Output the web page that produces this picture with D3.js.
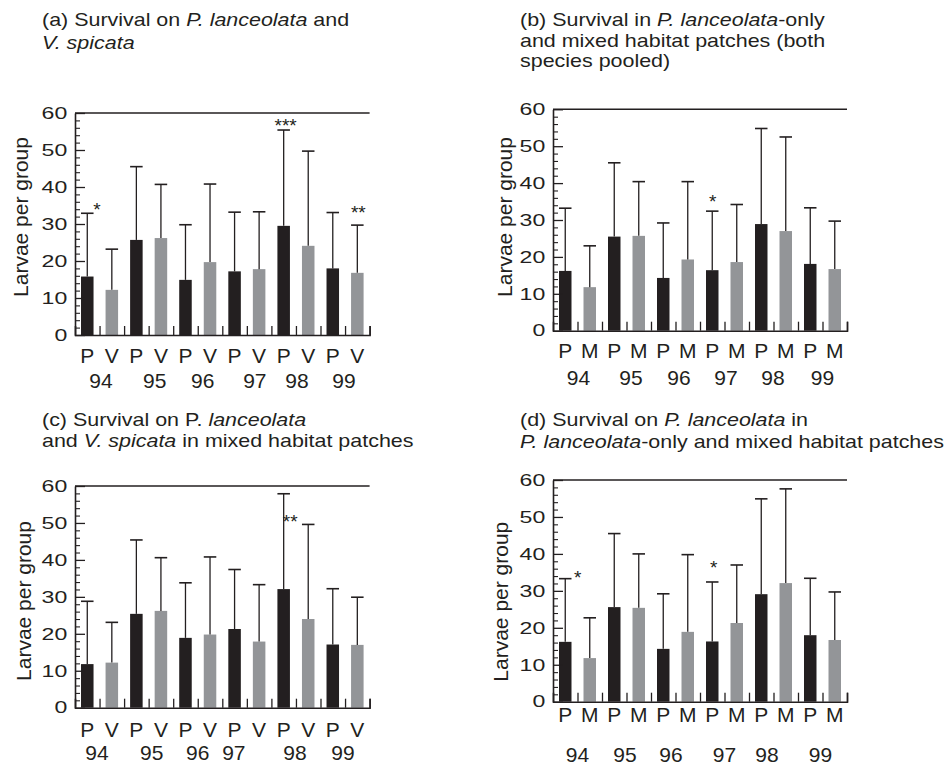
<!DOCTYPE html>
<html>
<head>
<meta charset="utf-8">
<script src="https://cdn.jsdelivr.net/npm/d3@7/dist/d3.min.js"></script>
<style>
  body { margin: 0; background: #fff; }
  text { font-family: "Liberation Sans", Arial, Helvetica, sans-serif; fill: #231f20; }
</style>
</head>
<body>
<div id="chart"></div>
<script>
// Chart size
var svgWidth = 945;
var svgHeight = 767;

// Data
var years = ["94", "95", "96", "97", "98", "99"];
var yTicks = [0, 10, 20, 30, 40, 50, 60];

// (a) P vs V
var aLabels = ["P", "V"];
var aMeans = [15.8, 12.2, 25.7, 26.2, 14.9, 19.7, 17.2, 17.8, 29.5, 24.1, 18.0, 16.8];
var aUpper = [32.9, 23.2, 45.5, 40.7, 29.8, 40.8, 33.2, 33.3, 55.4, 49.7, 33.1, 29.7];

// (b) P-only vs mixed, pooled
var bLabels = ["P", "M"];
var bMeans = [16.2, 11.8, 25.5, 25.7, 14.3, 19.3, 16.4, 18.6, 28.9, 27.0, 18.1, 16.7];
var bUpper = [33.2, 23.0, 45.5, 40.4, 29.2, 40.4, 32.4, 34.2, 54.8, 52.5, 33.3, 29.7];

// (c) P vs V in mixed patches
var cLabels = ["P", "V"];
var cMeans = [11.8, 12.2, 25.4, 26.2, 18.9, 19.8, 21.3, 17.9, 32.1, 24.0, 17.1, 17.0];
var cUpper = [28.8, 23.1, 45.4, 40.6, 33.8, 40.8, 37.4, 33.3, 57.9, 49.6, 32.2, 29.9];

// (d) P in P-only vs mixed
var dLabels = ["P", "M"];
var dMeans = [16.2, 11.8, 25.6, 25.4, 14.3, 18.9, 16.3, 21.3, 29.1, 32.1, 18.0, 16.7];
var dUpper = [33.3, 22.7, 45.5, 40.0, 29.2, 39.8, 32.4, 37.0, 54.9, 57.6, 33.4, 29.7];

// Significance marks: bar index and label
var aStars = [[0, "*"], [8, "***"], [11, "**"]];
var bStars = [[6, "*"]];
var cStars = [[8, "**"]];
var dStars = [[0, "*"], [6, "*"]];

// Titles (text, italic?)
var aTitle = [[["(a) Survival on ", 0], ["P. lanceolata", 1], [" and", 0]],
              [["V. spicata", 1]]];
var bTitle = [[["(b) Survival in ", 0], ["P. lanceolata", 1], ["-only", 0]],
              [["and mixed habitat patches (both", 0]],
              [["species pooled)", 0]]];
var cTitle = [[["(c) Survival on P. ", 0], ["lanceolata", 1]],
              [["and ", 0], ["V. spicata", 1], [" in mixed habitat patches", 0]]];
var dTitle = [[["(d) Survival on ", 0], ["P. lanceolata", 1], [" in", 0]],
              [["P. lanceolata", 1], ["-only and mixed habitat patches", 0]]];

var black = "#231f20";
var grey = "#939598";

// Panel layout (pixels)
var panels = [
  { means: aMeans, upper: aUpper, labels: aLabels, stars: aStars, title: aTitle,
    x0: 75, x1: 369.6, top: 113, bottom: 335, titleX: 42, titleY: 26, lineH: 22.5,
    ytX: 28, ytY: 217, row1: 362.7, row2: 388.3,
    yearNudge: [1.5, 6, 5, 8, 1, -1],
    starOff: [[9.7, -8], [2, -9.5], [1, -17]] },
  { means: bMeans, upper: bUpper, labels: bLabels, stars: bStars, title: bTitle,
    x0: 553, x1: 847, top: 109.3, bottom: 330.7, titleX: 520, titleY: 26, lineH: 20.5,
    ytX: 511.7, ytY: 217, row1: 358.3, row2: 385,
    yearNudge: [1, 4.5, 3.5, 1.5, -0.5, 0],
    starOff: [[0.5, -14]] },
  { means: cMeans, upper: cUpper, labels: cLabels, stars: cStars, title: cTitle,
    x0: 75, x1: 369.6, top: 486, bottom: 707.7, titleX: 42, titleY: 426, lineH: 21,
    ytX: 31, ytY: 601, row1: 736.7, row2: 760,
    yearNudge: [-2.5, 3, 0, -13, -1, -2],
    starOff: [[6.5, 23]] },
  { means: dMeans, upper: dUpper, labels: dLabels, stars: dStars, title: dTitle,
    x0: 553, x1: 847, top: 480, bottom: 701.7, titleX: 520, titleY: 426, lineH: 22,
    ytX: 508, ytY: 601.7, row1: 721.7, row2: 761.7,
    yearNudge: [0, -1.5, -4.5, 0, -6.5, -2],
    starOff: [[12.5, -6], [1.5, -19]] }
];

var svg = d3.select("#chart")
  .append("svg")
  .attr("width", svgWidth)
  .attr("height", svgHeight);

panels.forEach(function(p) {
  var g = svg.append("g");
  var n = p.means.length;

  var x = d3.scaleBand()
    .domain(d3.range(n))
    .range([p.x0, p.x1]);

  var xEdge = d3.scaleLinear()
    .domain([0, n])
    .range([p.x0, p.x1]);

  var y = d3.scaleLinear()
    .domain([0, 60])
    .range([p.bottom, p.top]);

  var bw = x.bandwidth() * 0.51;

  // bars
  g.selectAll(".bar")
    .data(p.means)
    .enter()
    .append("rect")
    .attr("x", (d, i) => x(i) + (x.bandwidth() - bw) / 2)
    .attr("y", d => y(d))
    .attr("width", bw)
    .attr("height", d => p.bottom - y(d))
    .attr("fill", (d, i) => i % 2 === 0 ? black : grey);

  // error bars (upper only)
  g.selectAll(".err")
    .data(p.upper)
    .enter()
    .append("line")
    .attr("x1", (d, i) => x(i) + x.bandwidth() / 2)
    .attr("x2", (d, i) => x(i) + x.bandwidth() / 2)
    .attr("y1", (d, i) => y(p.means[i]))
    .attr("y2", d => y(d))
    .attr("stroke", black)
    .attr("stroke-width", 1.3);

  g.selectAll(".cap")
    .data(p.upper)
    .enter()
    .append("line")
    .attr("x1", (d, i) => x(i) + x.bandwidth() / 2 - bw / 2)
    .attr("x2", (d, i) => x(i) + x.bandwidth() / 2 + bw / 2)
    .attr("y1", d => y(d))
    .attr("y2", d => y(d))
    .attr("stroke", black)
    .attr("stroke-width", 1.6);

  // frame: top and right
  g.append("line")
    .attr("x1", p.x0).attr("x2", p.x1)
    .attr("y1", p.top).attr("y2", p.top)
    .attr("stroke", black).attr("stroke-width", 1.4);

  // minor y ticks
  var minor = d3.range(0, 61, 2).filter(v => v % 10 !== 0);
  g.append("g")
    .attr("transform", `translate(${p.x0},0)`)
    .call(d3.axisLeft(y).tickValues(minor).tickSize(-5).tickFormat(""))
    .call(a => a.select(".domain").remove())
    .selectAll("line").attr("stroke", black).attr("stroke-width", 1.1);

  // major y ticks and labels
  var yAxis = g.append("g")
    .attr("transform", `translate(${p.x0},0)`)
    .call(d3.axisLeft(y).tickValues(yTicks).tickSizeInner(-10).tickSizeOuter(0));
  yAxis.select(".domain").attr("stroke", black).attr("stroke-width", 1.6);
  yAxis.selectAll("line").attr("stroke", black).attr("stroke-width", 1.3);
  yAxis.selectAll("text")
    .attr("x", -5.5)
    .attr("transform", "scale(1.4,1)")
    .style("font-size", "16.5px")
    .style("fill", black);

  // bottom axis with ticks between bars
  var xAxis = g.append("g")
    .attr("transform", `translate(0,${p.bottom})`)
    .call(d3.axisBottom(xEdge).tickValues(d3.range(1, n + 1)).tickSize(-9).tickFormat(""));
  xAxis.select(".domain").attr("stroke", black).attr("stroke-width", 1.6);
  xAxis.selectAll("line").attr("stroke", black).attr("stroke-width", 1.3);

  // category letters
  g.selectAll(".cat")
    .data(p.means)
    .enter()
    .append("text")
    .attr("x", (d, i) => x(i) + x.bandwidth() / 2)
    .attr("y", p.row1)
    .attr("text-anchor", "middle")
    .style("font-size", "21px")
    .text((d, i) => p.labels[i % 2]);

  // years
  g.selectAll(".year")
    .data(years)
    .enter()
    .append("text")
    .attr("x", (d, i) => x(2 * i + 1) + p.yearNudge[i])
    .attr("y", p.row2)
    .attr("text-anchor", "middle")
    .style("font-size", "21px")
    .text(d => d);

  // y axis title
  g.append("text")
    .attr("transform", `translate(${p.ytX},${p.ytY}) rotate(-90)`)
    .attr("text-anchor", "middle")
    .style("font-size", "21px")
    .text("Larvae per group");

  // stars
  p.stars.forEach(function(s, k) {
    var i = s[0];
    g.append("text")
      .attr("x", x(i) + x.bandwidth() / 2 + p.starOff[k][0])
      .attr("y", y(p.upper[i]) + p.starOff[k][1] + 11)
      .attr("text-anchor", "middle")
      .style("font-size", "19px")
      .text(s[1]);
  });

  // title
  p.title.forEach(function(line, li) {
    var t = g.append("g")
      .attr("transform", `translate(${p.titleX},${p.titleY + li * p.lineH}) scale(1.16,1)`)
      .append("text")
      .style("font-size", "18.5px");
    line.forEach(function(seg) {
      t.append("tspan")
        .style("font-style", seg[1] ? "italic" : "normal")
        .text(seg[0]);
    });
  });
});
</script>
</body>
</html>
